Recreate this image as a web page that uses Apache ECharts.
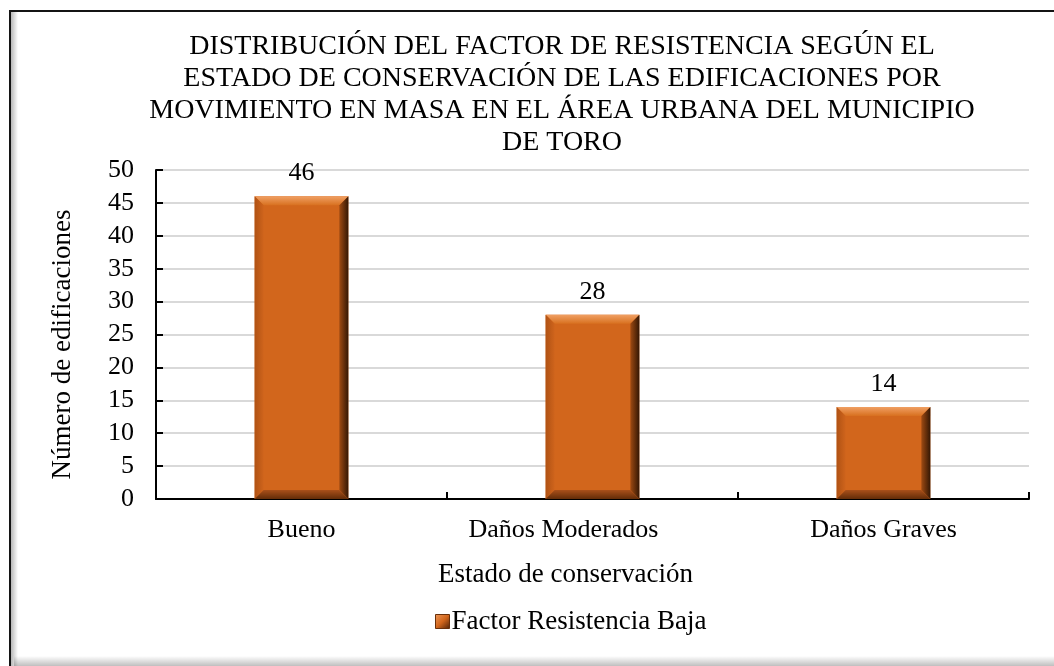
<!DOCTYPE html>
<html>
<head>
<meta charset="utf-8">
<script src="https://cdn.jsdelivr.net/npm/echarts@6/dist/echarts.min.js"></script>
<style>
  html, body { margin: 0; padding: 0; background: #ffffff; }
  #chart { width: 1054px; height: 666px; }
</style>
</head>
<body>
<div id="chart"></div>
<script>
// Data
const titleLines = [
  'DISTRIBUCIÓN DEL FACTOR DE RESISTENCIA SEGÚN EL',
  'ESTADO DE CONSERVACIÓN DE LAS EDIFICACIONES POR',
  'MOVIMIENTO EN MASA EN EL ÁREA URBANA DEL MUNICIPIO',
  'DE TORO'
];
const categories = ['Bueno', 'Daños Moderados', 'Daños Graves'];
const seriesName = 'Factor Resistencia Baja';
const values = [46, 28, 14];
const yAxisName = 'Número de edificaciones';
const xAxisName = 'Estado de conservación';

const FONT = '"Liberation Serif", "Times New Roman", serif';
const lin = (x, y, x2, y2, stops) => new echarts.graphic.LinearGradient(x, y, x2, y2, stops);

// Bevelled bar drawn from the axis scales
function renderBevelBar(params, api) {
  const idx = api.value(0);
  const v = api.value(1);
  const top = api.coord([idx, v]);
  const base = api.coord([idx, 0]);
  const band = api.size([1, 0])[0];
  const w = band * 0.322;
  const x0 = top[0] - w / 2, x1 = top[0] + w / 2;
  const y0 = top[1], y1 = base[1];
  const b = 9;
  return {
    type: 'group',
    children: [
      { type: 'rect', shape: { x: x0, y: y0, width: w, height: y1 - y0 },
        style: { fill: '#d2661c' } },
      { type: 'polygon', shape: { points: [[x0, y0], [x1, y0], [x1 - b, y0 + b], [x0 + b, y0 + b]] },
        style: { fill: lin(0, 0, 0, 1, [{ offset: 0, color: '#f0a064' }, { offset: 1, color: '#d8701f' }]) } },
      { type: 'polygon', shape: { points: [[x0, y0], [x0 + b, y0 + b], [x0 + b, y1 - b], [x0, y1]] },
        style: { fill: lin(0, 0, 1, 0, [{ offset: 0, color: '#b05214' }, { offset: 1, color: '#cf641c' }]) } },
      { type: 'polygon', shape: { points: [[x1, y0], [x1, y1], [x1 - b, y1 - b], [x1 - b, y0 + b]] },
        style: { fill: lin(0, 0, 1, 0, [{ offset: 0, color: '#9e4a12' }, { offset: 1, color: '#341704' }]) } },
      { type: 'polygon', shape: { points: [[x0, y1], [x0 + b, y1 - b], [x1 - b, y1 - b], [x1, y1]] },
        style: { fill: lin(0, 0, 0, 1, [{ offset: 0, color: '#a9501a' }, { offset: 1, color: '#622c08' }]) } },
      { type: 'text',
        style: { text: String(v), x: top[0], y: y0 - 10, align: 'center', verticalAlign: 'bottom',
                 font: '26px ' + FONT, fill: '#000000' } }
    ]
  };
}

const chart = echarts.init(document.getElementById('chart'), null, { renderer: 'canvas' });

chart.setOption({
  backgroundColor: '#ffffff',
  animation: false,
  graphic: [
    // outer frame with inner shading
    { type: 'rect', left: 11, top: 12, shape: { width: 7, height: 660 }, z: 0,
      style: { fill: lin(0, 0, 1, 0, [{ offset: 0, color: 'rgba(0,0,0,0.28)' }, { offset: 1, color: 'rgba(0,0,0,0)' }]) } },
    { type: 'rect', left: 14, top: 656, shape: { width: 1060, height: 10 }, z: 0,
      style: { fill: lin(0, 0, 0, 1, [{ offset: 0, color: 'rgba(0,0,0,0)' }, { offset: 1, color: 'rgba(0,0,0,0.25)' }]) } },
    { type: 'rect', x: 10, y: 11, shape: { width: 1100, height: 720 }, z: 1,
      style: { fill: null, stroke: '#141414', lineWidth: 2 } },
    { type: 'text', x: 562, y: 31, z: 5,
      style: { text: titleLines.join('\n'), align: 'center', verticalAlign: 'top',
               font: '28px ' + FONT, lineHeight: 32, fill: '#000000' } }
  ],
  legend: {
    left: 430, top: 603,
    itemWidth: 14, itemHeight: 14, itemGap: 10,
    textStyle: { fontFamily: FONT, fontSize: 27, color: '#000000', padding: [0, 0, 0, -3] },
    data: [{
      name: seriesName, icon: 'rect',
      itemStyle: { color: lin(0, 0, 1, 1, [{ offset: 0, color: '#ee9a5c' }, { offset: 0.5, color: '#d2661c' }, { offset: 1, color: '#4a2008' }]),
                   borderColor: '#6a300a', borderWidth: 1 }
    }]
  },
  grid: { left: 156, right: 25, top: 170, bottom: 167 },
  xAxis: {
    type: 'category',
    data: categories.map((c, i) => i === 1
      ? { value: c, textStyle: { padding: [0, 58, 0, 0] } }
      : c),
    name: xAxisName,
    nameLocation: 'middle',
    nameGap: 62,
    nameTextStyle: { fontFamily: FONT, fontSize: 27, color: '#000000', padding: [0, 54, 0, 0] },
    axisLine: { lineStyle: { color: '#000000', width: 2 } },
    axisTick: { show: true, inside: true, length: 7, lineStyle: { color: '#000000', width: 2 } },
    axisLabel: { fontFamily: FONT, fontSize: 26, color: '#000000', margin: 18 },
    splitLine: { show: false }
  },
  yAxis: {
    type: 'value',
    min: 0, max: 50, interval: 5,
    name: yAxisName,
    nameLocation: 'middle',
    nameGap: 80,
    nameRotate: 90,
    nameTextStyle: { fontFamily: FONT, fontSize: 27, color: '#000000', padding: [0, 20, 0, 0] },
    axisLine: { show: true, lineStyle: { color: '#000000', width: 2 } },
    axisTick: { show: true, inside: true, length: 7, lineStyle: { color: '#000000', width: 2 } },
    axisLabel: { fontFamily: FONT, fontSize: 26, color: '#000000', margin: 22 },
    splitLine: { show: true, lineStyle: { color: '#d9d9d9', width: 2 } }
  },
  series: [{
    name: seriesName,
    type: 'custom',
    renderItem: renderBevelBar,
    encode: { x: 0, y: 1 },
    itemStyle: { color: '#d2661c' },
    data: values.map((v, i) => [i, v]),
    z: 3
  }]
});
</script>
</body>
</html>
